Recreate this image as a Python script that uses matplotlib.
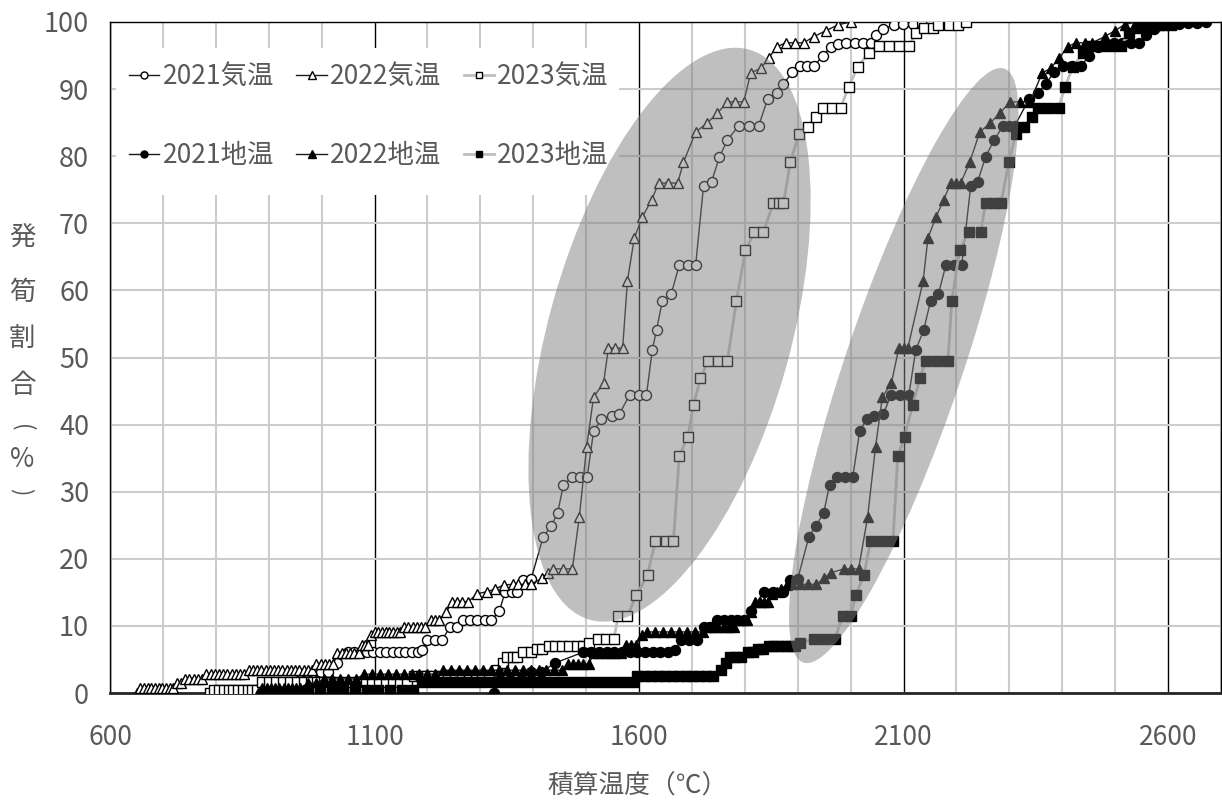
import matplotlib
matplotlib.use('Agg')
import matplotlib.pyplot as plt
from matplotlib.patches import Ellipse, Rectangle
from matplotlib.transforms import ScaledTranslation
import numpy as np

plt.rcParams['font.family'] = ['Noto Sans CJK JP', 'DejaVu Sans']

# ---------------- data ----------------
air21_x = [922, 960, 972, 984, 998, 1012, 1030,
           1050, 1062, 1074, 1086, 1098, 1110, 1122, 1134, 1146, 1158, 1170, 1182,
           1190, 1200, 1215, 1228, 1243, 1256,
           1268, 1281, 1294, 1308, 1321, 1336, 1347, 1359, 1370, 1381, 1396,
           1419, 1434, 1446, 1457, 1474, 1489, 1502, 1514, 1529, 1548, 1563,
           1582, 1599, 1614, 1625, 1633, 1644, 1661, 1676, 1692, 1707,
           1722, 1737, 1752, 1767, 1788, 1807, 1826, 1843, 1860, 1873,
           1890, 1904, 1917, 1930, 1947, 1962, 1977, 1992, 2008, 2023, 2038,
           2047, 2062, 2081, 2098, 2117, 2135, 2152, 2170]
soil21_x = [1325, 1338, 1357, 1376, 1395, 1414, 1442,
            1495, 1510, 1524, 1539, 1553, 1568, 1582, 1597, 1611, 1626, 1640, 1655,
            1668, 1680, 1695, 1710, 1722, 1735,
            1747, 1760, 1773, 1786, 1798, 1811, 1836, 1854, 1872, 1886, 1900,
            1921, 1934, 1949, 1960, 1975, 1989, 2004, 2017, 2030, 2045, 2062,
            2076, 2093, 2110, 2123, 2138, 2151, 2166, 2180, 2195, 2210,
            2227, 2240, 2255, 2271, 2288, 2299, 2310, 2337, 2354, 2369,
            2384, 2401, 2418, 2435, 2450, 2467, 2482, 2498, 2513, 2530, 2545,
            2558, 2573, 2590, 2605, 2620, 2638, 2655, 2672]
y21 = [0, 1.9, 1.9, 1.9, 3.1, 3.1, 4.5,
       6.1, 6.1, 6.1, 6.1, 6.1, 6.1, 6.1, 6.1, 6.1, 6.1, 6.1, 6.1,
       6.4, 7.9, 7.9, 7.9, 9.9, 9.9,
       10.9, 10.9, 10.9, 10.9, 10.9, 12.2, 15.1, 15.1, 15.1, 16.8, 17.0,
       23.3, 24.9, 26.8, 31.0, 32.2, 32.2, 32.2, 39.0, 40.8, 41.3, 41.6,
       44.4, 44.4, 44.4, 51.1, 54.1, 58.4, 59.5, 63.8, 63.8, 63.8,
       75.6, 76.2, 79.9, 82.4, 84.5, 84.5, 84.5, 88.5, 89.4, 90.8,
       92.5, 93.4, 93.4, 93.4, 94.9, 96.3, 96.7, 96.9, 96.9, 96.9, 96.9,
       98.1, 98.9, 99.6, 99.7, 99.7, 99.8, 99.9, 100]

air22_x = [651,
           657, 664, 671, 678, 685, 692, 699, 706, 713, 719,
           726, 734,
           742, 750, 758, 766, 774,
           782, 790, 798, 806, 814, 822, 830, 838, 846, 854,
           862, 870, 878, 886, 894, 902, 910, 918, 926, 934, 942, 950, 958, 966, 974, 982,
           990, 998, 1006, 1014, 1022,
           1030, 1038, 1046, 1054, 1062, 1070,
           1076, 1082, 1088, 1094,
           1100, 1107, 1114, 1121, 1128, 1135, 1142, 1149,
           1156, 1164, 1172, 1180, 1188, 1196,
           1206, 1214, 1222, 1236,
           1247, 1256, 1265, 1277,
           1294, 1313, 1328, 1344,
           1361, 1372, 1384, 1395,
           1417, 1427, 1438, 1457, 1474,
           1487, 1501, 1514, 1533, 1542, 1555, 1569,
           1578, 1591, 1606, 1624, 1637, 1655, 1673,
           1684, 1707, 1728, 1748, 1767, 1782, 1798,
           1811, 1830, 1845, 1860, 1877, 1894, 1911,
           1930, 1953, 1977, 2000]
soil22_x = [880,
            888, 896, 904, 912, 920, 928, 936, 944, 952, 960,
            975, 990,
            1005, 1020, 1035, 1050, 1065,
            1080, 1095, 1110, 1125, 1140, 1155, 1170, 1185, 1200, 1215,
            1230, 1245, 1260, 1275, 1290, 1305, 1320, 1335, 1350, 1365, 1380, 1395, 1410, 1425, 1440, 1455,
            1465, 1475, 1485, 1495, 1505,
            1515, 1525, 1535, 1545, 1555, 1565,
            1575, 1585, 1595, 1605,
            1615, 1630, 1645, 1660, 1675, 1690, 1705, 1720,
            1730, 1740, 1750, 1760, 1770, 1780,
            1788, 1796, 1804, 1812,
            1820, 1828, 1836, 1844,
            1852, 1860, 1868, 1880,
            1890, 1905, 1920, 1935,
            1950, 1962, 1987, 2001, 2015,
            2032, 2047, 2060, 2077, 2091, 2100, 2108,
            2137, 2146, 2161, 2176, 2189, 2200, 2208,
            2225, 2244, 2263, 2282, 2301, 2320, 2339,
            2362, 2378, 2394, 2410, 2425, 2442, 2456,
            2480, 2499, 2518, 2539]
y22 = [0,
       0.7, 0.7, 0.7, 0.7, 0.7, 0.7, 0.7, 0.7, 0.7, 0.7,
       1.5, 1.5,
       2.1, 2.1, 2.1, 2.1, 2.1,
       2.8, 2.8, 2.8, 2.8, 2.8, 2.8, 2.8, 2.8, 2.8, 2.8,
       3.4, 3.4, 3.4, 3.4, 3.4, 3.4, 3.4, 3.4, 3.4, 3.4, 3.4, 3.4, 3.4, 3.4, 3.4, 3.4,
       4.3, 4.3, 4.3, 4.3, 4.3,
       6.0, 6.0, 6.0, 6.0, 6.0, 6.0,
       7.2, 7.2, 7.2, 8.6,
       9.1, 9.1, 9.1, 9.1, 9.1, 9.1, 9.1, 9.1,
       9.8, 9.8, 9.8, 9.8, 9.8, 9.8,
       10.9, 10.9, 10.9, 12.1,
       13.6, 13.6, 13.6, 13.6,
       14.8, 15.1, 15.5, 16.1,
       16.2, 16.2, 16.2, 16.2,
       17.1, 17.9, 18.5, 18.5, 18.5,
       26.2, 36.7, 44.1, 46.2, 51.4, 51.4, 51.4,
       61.4, 67.8, 70.9, 73.5, 76.0, 76.0, 76.0,
       79.1, 83.6, 84.9, 86.4, 88.1, 88.1, 88.1,
       92.4, 93.1, 94.6, 96.3, 96.9, 96.9, 96.9,
       97.8, 98.7, 99.6, 100]

air23_x = [789,
           797, 806, 815, 824, 833, 842, 851, 860, 869, 878,
           888, 901, 914, 927, 940, 953, 966, 979, 992, 1005, 1018,
           1031, 1044, 1057, 1070, 1083, 1096, 1109, 1122, 1135, 1148, 1161,
           1174, 1187, 1200, 1213, 1226, 1239, 1252, 1265, 1278, 1291, 1304, 1317,
           1332, 1342, 1351, 1361, 1370, 1381, 1395, 1408, 1417,
           1429, 1442, 1455, 1468, 1482, 1495, 1506, 1523, 1538, 1552,
           1561, 1578, 1595, 1616, 1631, 1650, 1665,
           1676, 1692, 1703, 1716, 1731, 1750, 1767,
           1784, 1801, 1818, 1835, 1854, 1864, 1873,
           1886, 1902, 1919, 1934, 1947, 1964, 1981,
           1996, 2013, 2034, 2053, 2072, 2091, 2110,
           2123, 2138, 2155, 2166, 2185, 2202, 2218]
soil23_x = [969,
            975, 997, 1019, 1041, 1063, 1085, 1107, 1129, 1151, 1173,
            1190, 1209, 1228, 1247, 1266, 1285, 1304, 1323, 1342, 1361, 1380,
            1399, 1418, 1437, 1456, 1475, 1494, 1513, 1532, 1551, 1570, 1589,
            1597, 1610, 1623, 1636, 1649, 1662, 1675, 1688, 1701, 1714, 1727, 1740,
            1755, 1765, 1772, 1782, 1792, 1805, 1815, 1825, 1835,
            1845, 1855, 1865, 1875, 1885, 1895, 1905, 1930, 1950, 1970,
            1985, 2000, 2010, 2025, 2038, 2059, 2080,
            2089, 2102, 2117, 2131, 2142, 2163, 2184,
            2191, 2206, 2223, 2246, 2255, 2271, 2284,
            2299, 2312, 2327, 2342, 2354, 2373, 2393,
            2405, 2420, 2439, 2454, 2473, 2492, 2511,
            2526, 2545, 2560, 2577, 2590, 2605, 2619]
y23 = [0,
       0.5, 0.5, 0.5, 0.5, 0.5, 0.5, 0.5, 0.5, 0.5, 0.5,
       1.6, 1.6, 1.6, 1.6, 1.6, 1.6, 1.6, 1.6, 1.6, 1.6, 1.6,
       1.6, 1.6, 1.6, 1.6, 1.6, 1.6, 1.6, 1.6, 1.6, 1.6, 1.6,
       2.5, 2.5, 2.5, 2.5, 2.5, 2.5, 2.5, 2.5, 2.5, 2.5, 2.5, 2.5,
       3.4, 4.5, 5.4, 5.4, 5.4, 6.1, 6.1, 6.5, 6.5,
       7.0, 7.0, 7.0, 7.0, 7.0, 7.0, 7.5, 8.0, 8.0, 8.0,
       11.5, 11.5, 14.6, 17.6, 22.7, 22.7, 22.7,
       35.3, 38.2, 42.9, 46.9, 49.5, 49.5, 49.5,
       58.4, 66.0, 68.7, 68.7, 73.0, 73.0, 73.0,
       79.1, 83.3, 84.4, 85.8, 87.2, 87.2, 87.2,
       90.3, 93.3, 95.4, 96.4, 96.4, 96.4, 96.4,
       98.4, 99.1, 99.1, 99.6, 99.6, 99.6, 100]

labels = ['2021気温', '2022気温', '2023気温', '2021地温', '2022地温', '2023地温']
x_ticks = [600, 1100, 1600, 2100, 2600]
y_ticks = [0, 10, 20, 30, 40, 50, 60, 70, 80, 90, 100]
x_label = '積算温度（℃）'
# vertical label: (character, rotation)
y_label_chars = [('発', 0), ('筍', 0), ('割', 0), ('合', 0), ('(', -90), ('%', 0), (')', -90)]

for xs, ys in [(air21_x, y21), (soil21_x, y21), (air22_x, y22), (soil22_x, y22),
               (air23_x, y23), (soil23_x, y23)]:
    assert len(xs) == len(ys), (len(xs), len(ys))

# ---------------- figure ----------------
W, H = 1222, 801
fig = plt.figure(figsize=(W / 100, H / 100), dpi=100)
L, R, T, B = 110, 1221, 22, 693
ax = fig.add_axes([L / W, 1 - B / H, (R - L) / W, (B - T) / H])
ax.set_xlim(600, 2700)
ax.set_ylim(0, 100)
ax.set_xticks(x_ticks)
ax.set_xticks(np.arange(600, 2701, 100), minor=True)
ax.set_yticks(y_ticks)
ax.grid(which='minor', axis='x', color='#cccccc', lw=1.5, zorder=0)
ax.grid(which='major', axis='x', color='black', lw=1.0, zorder=0.5)
ax.grid(which='major', axis='y', color='#cccccc', lw=1.5, zorder=0)
ax.set_axisbelow(True)
ax.tick_params(which='both', length=0)
ax.tick_params(axis='y', pad=15, labelsize=19.5, labelcolor='#595959')
ax.tick_params(axis='x', pad=22, labelsize=19, labelcolor='#595959')
for s in ['left', 'right', 'top']:
    ax.spines[s].set_color('black')
    ax.spines[s].set_linewidth(1.0)
ax.spines['bottom'].set_color('#262626')
ax.spines['bottom'].set_linewidth(2.0)

dark = '#1a1a1a'
light = '#bfbfbf'
st_o = dict(marker='o', ms=7.2, mew=1.0, mec='black')
st_t = dict(marker='^', ms=7.8, mew=1.0, mec='black')
st_s = dict(marker='s', ms=6.8, mew=1.0, mec='black')
h_a21, = ax.plot(air21_x, y21, '-', color=dark, lw=1.0, mfc='white', label=labels[0], zorder=3, **st_o)
h_a22, = ax.plot(air22_x, y22, '-', color=dark, lw=1.0, mfc='white', label=labels[1], zorder=3, **st_t)
h_a23, = ax.plot(air23_x, y23, '-', color=light, lw=2.0, mfc='white', label=labels[2], zorder=3, **st_s)
h_s21, = ax.plot(soil21_x, y21, '-', color=dark, lw=1.0, mfc='black', label=labels[3], zorder=3, **st_o)
h_s22, = ax.plot(soil22_x, y22, '-', color=dark, lw=1.0, mfc='black', label=labels[4], zorder=3, **st_t)
h_s23, = ax.plot(soil23_x, y23, '-', color=light, lw=2.0, mfc='black', label=labels[5], zorder=3, **st_s)

# grey translucent ellipses (pixel-sized, centred in data coords)
for cx, cy, w_in, h_in, ang in [(1657.6, 53.4, 5.92, 2.42, 74.4),
                                (2100.4, 48.8, 6.27, 1.17, 71.3)]:
    e = Ellipse((0, 0), w_in, h_in, angle=ang,
                transform=fig.dpi_scale_trans + ScaledTranslation(cx, cy, ax.transData),
                facecolor='#808080', edgecolor='none', alpha=0.5, zorder=6)
    ax.add_patch(e)

# white legend background box
ax.add_patch(Rectangle((6 / 1111, (693 - 195) / 671), (619 - 116) / 1111, (195 - 48) / 671,
                       transform=ax.transAxes, facecolor='white', edgecolor='none', zorder=4))

leg = ax.legend([h_a21, h_s21, h_a22, h_s22, h_a23, h_s23],
                [labels[0], labels[3], labels[1], labels[4], labels[2], labels[5]],
                ncol=3, loc='upper left', bbox_to_anchor=(0.0018, 0.964),
                fontsize=19, frameon=False, borderpad=0.15, handlelength=1.15,
                handletextpad=0.12, columnspacing=0.85, labelspacing=1.97,
                markerscale=0.7, labelcolor='#595959')
leg.set_zorder(5)

fig.text(638 / W, 1 - 787 / H, x_label, ha='center', va='center', fontsize=18.5, color='#595959')
ypos = [237, 292, 338, 385, 428, 460, 492]
for (ch, rot), py in zip(y_label_chars, ypos):
    fs = 16 if rot else 19
    fig.text(22 / W, 1 - py / H, ch, ha='center', va='center', rotation=rot,
             fontsize=fs, color='#595959')

fig.savefig('out.png', dpi=100)
